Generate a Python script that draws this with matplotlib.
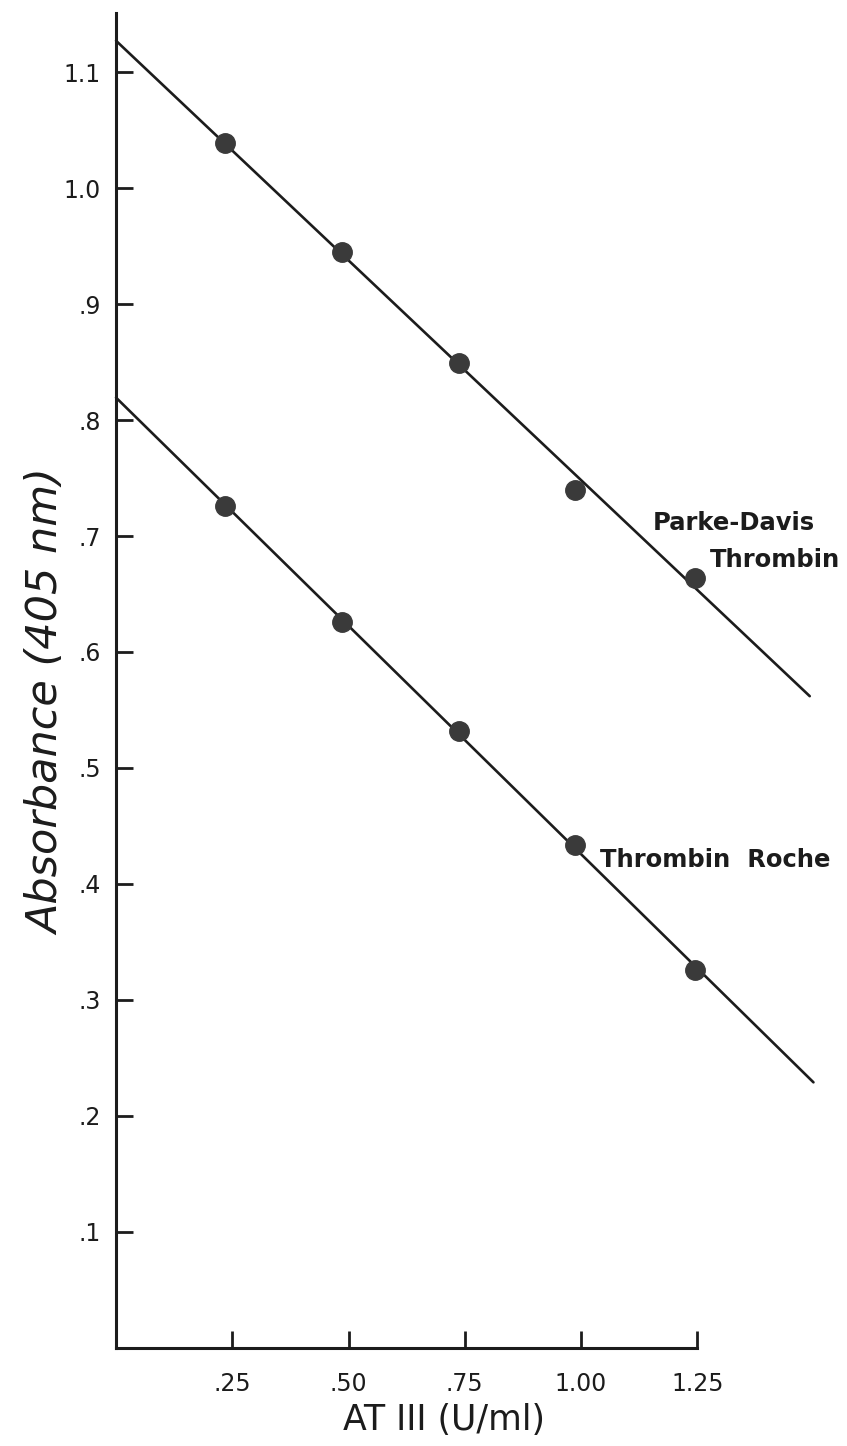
import numpy as np
import matplotlib
matplotlib.use("Agg")
import matplotlib.pyplot as plt

# AT III concentration (U/ml) and absorbance at 405 nm for the two thrombin preparations
at3_conc = [0.235, 0.486, 0.738, 0.987, 1.245]
parke_davis_abs = [1.039, 0.945, 0.849, 0.740, 0.664]
roche_abs = [0.726, 0.626, 0.532, 0.434, 0.326]

# extent of the fitted regression lines
parke_davis_fit_range = [0.0, 1.492]
roche_fit_range = [0.0, 1.5]

x_ticks = [0.25, 0.50, 0.75, 1.00, 1.25]
x_tick_labels = [".25", ".50", ".75", "1.00", "1.25"]
y_ticks = [0.1, 0.2, 0.3, 0.4, 0.5, 0.6, 0.7, 0.8, 0.9, 1.0, 1.1]
y_tick_labels = [".1", ".2", ".3", ".4", ".5", ".6", ".7", ".8", ".9", "1.0", "1.1"]

ink = "#1c1c1c"
dot = "#3a3a3a"

fig = plt.figure(figsize=(8.47, 14.46), dpi=100)
ax = fig.add_axes([0.137, 0.0678, 0.8234, 0.9233])
ax.set_xlim(0, 1.5)
ax.set_ylim(0, 1.151)


def draw_series(xs, ys, span):
    slope, intercept = np.polyfit(xs, ys, 1)
    xl = np.array(span)
    ax.plot(xl, slope * xl + intercept, color=ink, lw=1.9,
            solid_capstyle="round", clip_on=False, zorder=2)
    ax.plot(xs, ys, "o", color=dot, ms=14, mec=dot, clip_on=False, zorder=3)


draw_series(at3_conc, parke_davis_abs, parke_davis_fit_range)
draw_series(at3_conc, roche_abs, roche_fit_range)

for side in ("top", "right"):
    ax.spines[side].set_visible(False)
for side in ("left", "bottom"):
    ax.spines[side].set_linewidth(2.2)
    ax.spines[side].set_color(ink)
ax.spines["bottom"].set_bounds(0, 1.25)

ax.set_xticks(x_ticks)
ax.set_xticklabels(x_tick_labels)
ax.set_yticks(y_ticks)
ax.set_yticklabels(y_tick_labels)
ax.tick_params(axis="both", direction="in", length=12, width=2.0,
               color=ink, labelcolor=ink, labelsize=17)
ax.tick_params(axis="x", pad=17)
ax.tick_params(axis="y", pad=11)

ax.set_xlabel("AT III (U/ml)", fontsize=25, color=ink)
ax.xaxis.set_label_coords(0.47, -0.041)
ax.set_ylabel("Absorbance (405 nm)", fontsize=31, color=ink, style="italic")
ax.yaxis.set_label_coords(-0.068, 0.484)

label_kw = dict(fontsize=17.5, color=ink, fontweight="bold", va="center")
ax.text(1.155, 0.711, "Parke-Davis", ha="left", **label_kw)
ax.text(1.557, 0.679, "Thrombin", ha="right", **label_kw)
ax.text(1.041, 0.421, "Thrombin  Roche", ha="left", **label_kw)

fig.savefig("out.png", dpi=100)
